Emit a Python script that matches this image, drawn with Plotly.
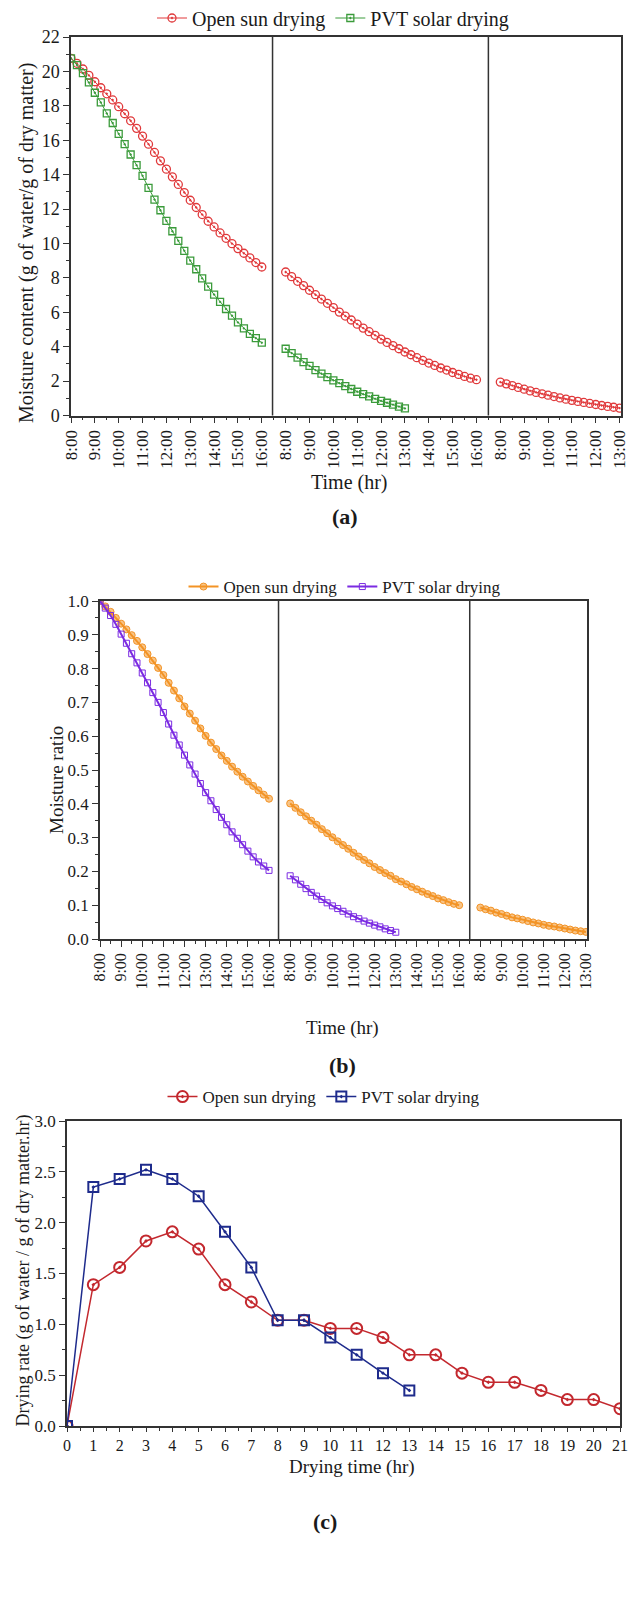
import plotly.graph_objects as go

# ---------------- data ----------------
# time axis: hours counted from 8:00 of day 1 (day 2 8:00 -> 9, day 3 8:00 -> 18), 15-min steps
t_day1 = [i * 0.25 for i in range(33)]          # 8:00 - 16:00
t_day2_full = [9 + i * 0.25 for i in range(33)]  # 8:00 - 16:00
t_day2_half = [9 + i * 0.25 for i in range(21)]  # 8:00 - 13:00
t_day3_half = [18 + i * 0.25 for i in range(21)] # 8:00 - 13:00

tick_vals = [0, 1, 2, 3, 4, 5, 6, 7, 8, 9, 10, 11, 12, 13, 14, 15, 16, 17, 18, 19, 20, 21, 22, 23]
tick_text = ["8:00", "9:00", "10:00", "11:00", "12:00", "13:00", "14:00", "15:00", "16:00",
             "8:00", "9:00", "10:00", "11:00", "12:00", "13:00", "14:00", "15:00", "16:00",
             "8:00", "9:00", "10:00", "11:00", "12:00", "13:00"]
day_dividers = [8.45, 17.5]

# (a) moisture content
mc_open_d1 = [20.76, 20.47, 20.14, 19.77, 19.40, 19.05, 18.70, 18.34, 17.95, 17.54, 17.13, 16.69,
              16.24, 15.77, 15.29, 14.80, 14.32, 13.87, 13.43, 12.96, 12.51, 12.09, 11.68, 11.29,
              10.96, 10.61, 10.30, 9.99, 9.70, 9.43, 9.16, 8.89, 8.63]
mc_open_d2 = [8.34, 8.07, 7.80, 7.55, 7.28, 7.02, 6.77, 6.52, 6.27, 6.01, 5.78, 5.55, 5.31, 5.08,
              4.87, 4.66, 4.44, 4.25, 4.06, 3.88, 3.69, 3.53, 3.36, 3.20, 3.05, 2.91, 2.76, 2.64,
              2.50, 2.39, 2.27, 2.17, 2.08]
mc_open_d3 = [1.94, 1.84, 1.74, 1.63, 1.53, 1.43, 1.34, 1.26, 1.18, 1.10, 1.02, 0.95, 0.88, 0.82,
              0.76, 0.70, 0.64, 0.58, 0.53, 0.48, 0.43]
mc_pvt_d1 = [20.76, 20.37, 19.90, 19.36, 18.76, 18.20, 17.56, 17.00, 16.37, 15.77, 15.17, 14.55,
             13.93, 13.23, 12.55, 11.93, 11.31, 10.71, 10.15, 9.57, 9.00, 8.50, 7.97, 7.49, 7.03,
             6.60, 6.19, 5.80, 5.41, 5.06, 4.75, 4.50, 4.23]
mc_pvt_d2 = [3.88, 3.63, 3.36, 3.10, 2.88, 2.64, 2.43, 2.23, 2.04, 1.88, 1.71, 1.54, 1.38, 1.24,
             1.11, 0.97, 0.85, 0.74, 0.63, 0.52, 0.41]

# (b) moisture ratio
mr_open_d1 = [1.000, 0.984, 0.968, 0.950, 0.933, 0.916, 0.899, 0.882, 0.863, 0.843, 0.824, 0.802,
              0.781, 0.758, 0.735, 0.712, 0.688, 0.667, 0.646, 0.623, 0.601, 0.581, 0.562, 0.543,
              0.527, 0.510, 0.495, 0.480, 0.466, 0.453, 0.440, 0.427, 0.415]
mr_open_d2 = [0.401, 0.388, 0.375, 0.363, 0.350, 0.338, 0.325, 0.313, 0.301, 0.289, 0.278, 0.267,
              0.255, 0.244, 0.234, 0.224, 0.213, 0.204, 0.195, 0.187, 0.177, 0.170, 0.162, 0.154,
              0.147, 0.140, 0.133, 0.127, 0.120, 0.115, 0.109, 0.104, 0.100]
mr_open_d3 = [0.093, 0.088, 0.084, 0.078, 0.074, 0.069, 0.064, 0.061, 0.057, 0.053, 0.049, 0.046,
              0.042, 0.039, 0.037, 0.034, 0.031, 0.028, 0.025, 0.023, 0.021]
mr_pvt_d1 = [1.000, 0.979, 0.957, 0.931, 0.902, 0.875, 0.844, 0.817, 0.787, 0.758, 0.729, 0.700,
             0.670, 0.636, 0.603, 0.574, 0.544, 0.515, 0.488, 0.460, 0.433, 0.409, 0.383, 0.360,
             0.338, 0.317, 0.298, 0.279, 0.260, 0.243, 0.228, 0.216, 0.203]
mr_pvt_d2 = [0.187, 0.175, 0.162, 0.149, 0.138, 0.127, 0.117, 0.107, 0.098, 0.090, 0.082, 0.074,
             0.066, 0.060, 0.053, 0.047, 0.041, 0.036, 0.030, 0.025, 0.020]

# (c) drying rate
dt_open = [0, 1, 2, 3, 4, 5, 6, 7, 8, 9, 10, 11, 12, 13, 14, 15, 16, 17, 18, 19, 20, 21]
dr_open = [0.0, 1.39, 1.56, 1.82, 1.91, 1.74, 1.39, 1.22, 1.04, 1.04, 0.96, 0.96, 0.87, 0.70,
           0.70, 0.52, 0.43, 0.43, 0.35, 0.26, 0.26, 0.17]
dt_pvt = [0, 1, 2, 3, 4, 5, 6, 7, 8, 9, 10, 11, 12, 13]
dr_pvt = [0.0, 2.35, 2.43, 2.52, 2.43, 2.26, 1.91, 1.56, 1.04, 1.04, 0.87, 0.70, 0.52, 0.35]

# ---------------- figure ----------------
W, H = 635, 1602
FONT = "Liberation Serif"
AX = "#333333"
TXT = "#1a1a1a"


def px_x(p):
    return p / W


def px_y(p):
    return 1 - p / H


fig = go.Figure()

RED_A = "#E0393B"
GREEN_A = "#3B9B3B"
ORANGE_B = "#F39325"
PURPLE_B = "#7B2BE2"
RED_C = "#C3282E"
BLUE_C = "#1E2B8C"


def add_segments(xs_list, ys_list, name, color, symbol, size, lw, mlw, xa, ya, legend, mcolor=None):
    for i, (xs, ys) in enumerate(zip(xs_list, ys_list)):
        fig.add_trace(go.Scatter(
            x=xs, y=ys, mode="lines+markers", name=name,
            line=dict(color=color, width=lw),
            marker=dict(symbol=symbol, size=size, color=mcolor or color,
                        line=dict(color=color, width=mlw)),
            xaxis=xa, yaxis=ya, legend=legend, legendgroup=name + legend,
            showlegend=(i == 0),
        ))


# (a)
add_segments([t_day1, t_day2_full, t_day3_half], [mc_open_d1, mc_open_d2, mc_open_d3],
             "Open sun drying", RED_A, "circle-open-dot", 8, 1, 1.3, "x", "y", "legend")
add_segments([t_day1, t_day2_half], [mc_pvt_d1, mc_pvt_d2],
             "PVT solar drying", GREEN_A, "square-open-dot", 7, 1, 1.3, "x", "y", "legend")
# (b)
add_segments([t_day1, t_day2_full, t_day3_half], [mr_open_d1, mr_open_d2, mr_open_d3],
             "Open sun drying", ORANGE_B, "circle", 7, 2, 1, "x2", "y2", "legend2",
             mcolor="rgba(243,147,37,0.55)")
add_segments([t_day1, t_day2_half], [mr_pvt_d1, mr_pvt_d2],
             "PVT solar drying", PURPLE_B, "square-open", 6, 2, 1, "x2", "y2", "legend2")
# (c)
add_segments([dt_open], [dr_open], "Open sun drying", RED_C, "circle-open-dot", 11, 1.5, 2,
             "x3", "y3", "legend3")
add_segments([dt_pvt], [dr_pvt], "PVT solar drying", BLUE_C, "square-open-dot", 10, 1.5, 2,
             "x3", "y3", "legend3")

axis_common = dict(showline=True, linecolor=AX, linewidth=1.5, mirror=True, showgrid=False,
                   zeroline=False, ticks="outside", ticklen=6, tickwidth=1.2, tickcolor=AX,
                   automargin=False)


def tf(size):
    return dict(family=FONT, size=size, color=TXT)


def minor(d):
    return dict(tickmode="linear", tick0=0, dtick=d, ticks="outside", ticklen=3,
                tickcolor=AX, tickwidth=1)


# domains
a_x = [px_x(71), px_x(621)]
a_y = [px_y(415.5), px_y(37)]
b_x = [px_x(100), px_x(587)]
b_y = [px_y(939), px_y(601)]
c_x = [px_x(67), px_x(620)]
c_y = [px_y(1426), px_y(1121)]

fig.update_layout(
    template="none",
    width=W, height=H, margin=dict(l=0, r=0, t=0, b=0, pad=0, autoexpand=False),
    paper_bgcolor="white", plot_bgcolor="white",
    font=dict(family=FONT, color=TXT),
    xaxis=dict(axis_common, domain=a_x, anchor="y", range=[0, 23.06], tickmode="array",
               tickvals=tick_vals, ticktext=tick_text, tickangle=-90, tickfont=tf(17),
               minor=minor(0.5)),
    yaxis=dict(axis_common, domain=a_y, anchor="x", range=[0, 22], tickmode="linear", tick0=0,
               dtick=2, tickfont=tf(18), minor=minor(1)),
    xaxis2=dict(axis_common, domain=b_x, anchor="y2", range=[0, 23.05], tickmode="array",
                tickvals=tick_vals, ticktext=tick_text, tickangle=-90, tickfont=tf(16),
                minor=minor(0.5)),
    yaxis2=dict(axis_common, domain=b_y, anchor="x2", range=[0, 1.0], tickmode="linear",
                tick0=0, dtick=0.1, tickformat=".1f", tickfont=tf(17), minor=minor(0.05)),
    xaxis3=dict(axis_common, domain=c_x, anchor="y3", range=[0, 21], tickmode="linear", tick0=0,
                dtick=1, tickfont=tf(16), ticklen=4, minor=minor(0.5)),
    yaxis3=dict(axis_common, domain=c_y, anchor="x3", range=[0, 3.0], tickmode="linear",
                tick0=0, dtick=0.5, tickformat=".1f", tickfont=tf(17), minor=minor(0.25)),
    legend=dict(orientation="h", x=px_x(333), y=px_y(18), xanchor="center", yanchor="middle",
                font=tf(20), bgcolor="rgba(0,0,0,0)", borderwidth=0, tracegroupgap=0),
    legend2=dict(orientation="h", x=px_x(345), y=px_y(587), xanchor="center", yanchor="middle",
                 font=tf(17), bgcolor="rgba(0,0,0,0)", borderwidth=0, tracegroupgap=0),
    legend3=dict(orientation="h", x=px_x(324), y=px_y(1097), xanchor="center", yanchor="middle",
                 font=tf(17), bgcolor="rgba(0,0,0,0)", borderwidth=0, tracegroupgap=0),
)

# day dividers
for xr, yr in [("x", "y"), ("x2", "y2")]:
    for d in day_dividers:
        fig.add_shape(type="line", xref=xr, yref=yr + " domain", x0=d, x1=d, y0=0, y1=1,
                      line=dict(color=AX, width=1.5))

# titles and captions
ann = [
    dict(text="Time (hr)", x=px_x(349), y=px_y(482), size=20, angle=0),
    dict(text="<b>(a)</b>", x=px_x(345), y=px_y(516), size=22, angle=0),
    dict(text="Moisture content (g of water/g of dry matter)", x=px_x(26), y=px_y(243),
         size=20, angle=-90),
    dict(text="Time (hr)", x=px_x(342), y=px_y(1028), size=19, angle=0),
    dict(text="<b>(b)</b>", x=px_x(342), y=px_y(1065), size=22, angle=0),
    dict(text="Moisture ratio", x=px_x(56), y=px_y(780), size=19, angle=-90),
    dict(text="Drying time (hr)", x=px_x(352), y=px_y(1467), size=19, angle=0),
    dict(text="<b>(c)</b>", x=px_x(325), y=px_y(1521), size=22, angle=0),
    dict(text="Drying rate (g of water / g of dry matter.hr)", x=px_x(22.5), y=px_y(1271),
         size=18, angle=-90),
]
for a in ann:
    fig.add_annotation(text=a["text"], x=a["x"], y=a["y"], xref="paper", yref="paper",
                       xanchor="center", yanchor="middle", showarrow=False, textangle=a["angle"],
                       font=tf(a["size"]))

fig.write_html("out.html")
